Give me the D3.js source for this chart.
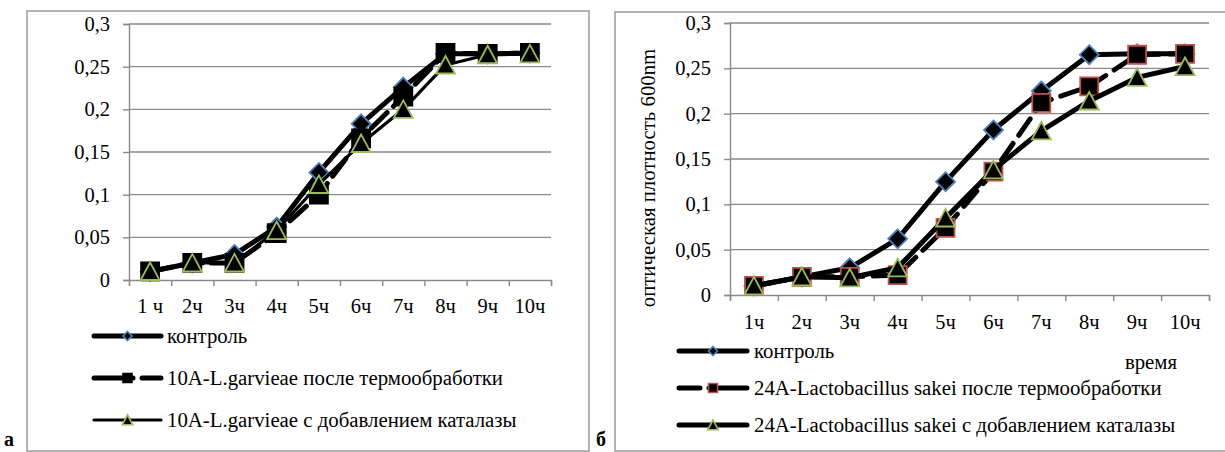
<!DOCTYPE html>
<html>
<head>
<meta charset="utf-8">
<script src="https://cdn.jsdelivr.net/npm/d3@7"></script>
<style>
  html, body { margin: 0; padding: 0; background: #fff; }
  svg, svg text { font-family: 'Liberation Serif', 'Times New Roman', Tinos, 'DejaVu Serif', serif !important; }
</style>
</head>
<body>
<svg id="chart" width="1225" height="452"></svg>
<script>
// ---------- DATA ----------
const leftCategories = ["1 ч", "2ч", "3ч", "4ч", "5ч", "6ч", "7ч", "8ч", "9ч", "10ч"];
const rightCategories = ["1ч", "2ч", "3ч", "4ч", "5ч", "6ч", "7ч", "8ч", "9ч", "10ч"];
const yTicks = [0, 0.05, 0.1, 0.15, 0.2, 0.25, 0.3];

const leftControl  = [0.01, 0.02, 0.03, 0.062, 0.126, 0.183, 0.226, 0.265, 0.265, 0.266];
const leftTermo    = [0.01, 0.02, 0.02, 0.055, 0.100, 0.166, 0.215, 0.266, 0.265, 0.266];
const leftCatalase = [0.01, 0.02, 0.02, 0.058, 0.112, 0.160, 0.200, 0.252, 0.264, 0.265];

const rightControl  = [0.01, 0.02, 0.03, 0.062, 0.125, 0.182, 0.225, 0.265, 0.266, 0.266];
const rightTermo    = [0.01, 0.02, 0.02, 0.022, 0.074, 0.136, 0.212, 0.230, 0.265, 0.266];
const rightCatalase = [0.01, 0.02, 0.019, 0.030, 0.085, 0.138, 0.181, 0.214, 0.240, 0.252];

const leftNames = ["контроль", "10A-L.garvieae после термообработки", "10A-L.garvieae с добавлением каталазы"];
const rightNames = ["контроль", "24A-Lactobacillus sakei после термообработки", "24A-Lactobacillus sakei с добавлением каталазы"];
const yTitle = "оптическая плотность 600nm";
const xTitle = "время";

// ---------- DRAW ----------
const FONT = "'Liberation Serif', 'Times New Roman', Tinos, 'DejaVu Serif', serif";
const svg = d3.select("#chart").attr("font-family", FONT);
const GRID = "#8a8a8a";
const FRAME = "#9a9a9a";
const BLUE = "#4f81bd", RED = "#c0504d", GREEN = "#9bbb59";
const TICK_FS = 20.5, TEXT_FS = 20.8;
const fmt = d3.formatLocale({decimal: ",", thousands: " ", grouping: [3], currency: ["", ""]}).format(".2~f");

function markerPath(shape, s) {
  if (shape === "diamond") return `M0,${-s}L${s},0L0,${s}L${-s},0Z`;
  if (shape === "square") return `M${-s},${-s}H${s}V${s}H${-s}Z`;
  return `M0,${-s}L${s * 1.05},${s * 0.95}L${-s * 1.05},${s * 0.95}Z`;
}

function drawChart(cfg) {
  const g = svg.append("g");
  g.append("rect").attr("x", cfg.frame[0]).attr("y", cfg.frame[1])
    .attr("width", cfg.frame[2]).attr("height", cfg.frame[3])
    .attr("fill", "none").attr("stroke", FRAME).attr("stroke-width", 1.5);

  const x = d3.scaleBand().domain(cfg.cats).range(cfg.xr).padding(0);
  const xl = d3.scaleLinear().domain([0, cfg.cats.length]).range(cfg.xr);
  const y = d3.scaleLinear().domain([0, 0.3]).range(cfg.yr);

  g.append("g").selectAll("line").data(yTicks.filter(d => d > 0)).join("line")
    .attr("x1", cfg.xr[0]).attr("x2", cfg.xr[1])
    .attr("y1", d => y(d)).attr("y2", d => y(d))
    .attr("stroke", GRID).attr("stroke-width", 1.4);

  const ya = g.append("g").attr("transform", `translate(${cfg.xr[0]},0)`)
    .call(d3.axisLeft(y).tickValues(yTicks).tickFormat(fmt).tickSize(6).tickPadding(13));
  ya.attr("font-family", FONT).attr("font-size", TICK_FS);
  ya.select(".domain").attr("stroke", GRID).attr("stroke-width", 1.4);
  ya.selectAll(".tick line").attr("stroke", GRID).attr("stroke-width", 1.4);
  ya.selectAll("text").attr("fill", "#000");

  const xt = g.append("g").attr("transform", `translate(0,${cfg.yr[0]})`)
    .call(d3.axisBottom(xl).ticks(cfg.cats.length).tickFormat("").tickSize(6).tickSizeOuter(6));
  xt.select(".domain").attr("stroke", GRID).attr("stroke-width", 1.4);
  xt.selectAll(".tick line").attr("stroke", GRID).attr("stroke-width", 1.4);

  const xa = g.append("g").attr("transform", `translate(0,${cfg.yr[0]})`)
    .call(d3.axisBottom(x).tickSize(0).tickPadding(cfg.xPad));
  xa.attr("font-family", FONT).attr("font-size", TICK_FS);
  xa.select(".domain").remove();
  xa.selectAll("text").attr("fill", "#000");

  const cx = d => x(d) + x.bandwidth() / 2;

  cfg.series.forEach(s => {
    const line = d3.line().x((d, i) => cx(cfg.cats[i])).y(d => y(d));
    g.append("path").datum(s.values).attr("d", line)
      .attr("fill", "none").attr("stroke", "#000").attr("stroke-width", s.width)
      .attr("stroke-linejoin", "round").attr("stroke-linecap", "round")
      .attr("stroke-dasharray", s.dash || null);
    g.append("g").selectAll("path").data(s.values).join("path")
      .attr("transform", (d, i) => `translate(${cx(cfg.cats[i])},${y(d)})`)
      .attr("d", markerPath(s.shape, s.size))
      .attr("fill", "#000").attr("stroke", s.outline).attr("stroke-width", 1.8);
  });

  cfg.series.forEach((s, i) => {
    const ly = cfg.legend.ys[i];
    const x0 = cfg.legend.x0, x1 = cfg.legend.x1, mx = (x0 + x1) / 2;
    g.append("line").attr("x1", x0).attr("x2", x1).attr("y1", ly).attr("y2", ly)
      .attr("stroke", "#000").attr("stroke-width", s.width)
      .attr("stroke-linecap", "round")
      .attr("stroke-dasharray", s.legendDash || null);
    g.append("path").attr("transform", `translate(${mx},${ly})`)
      .attr("d", markerPath(s.shape, s.shape === "triangle" ? 5 : 4.5))
      .attr("fill", "#000").attr("stroke", s.outline).attr("stroke-width", 1.6);
    g.append("text").attr("x", cfg.legend.tx).attr("y", ly).attr("dy", "0.33em")
      .attr("font-size", TEXT_FS).attr("fill", "#000").text(s.name);
  });
  return {g, x, y};
}

drawChart({
  frame: [27, 11, 562, 440],
  cats: leftCategories,
  xr: [129, 551], yr: [280, 24], xPad: 18,
  series: [
    {name: leftNames[0], values: leftControl, shape: "diamond", size: 9.5, outline: BLUE, width: 5},
    {name: leftNames[1], values: leftTermo, shape: "square", size: 9, outline: "#000", width: 5, dash: "22,9", legendDash: "39,9,30"},
    {name: leftNames[2], values: leftCatalase, shape: "triangle", size: 9, outline: GREEN, width: 3.2}
  ],
  legend: {x0: 94, x1: 161, tx: 167, ys: [336, 378, 420]}
});

drawChart({
  frame: [615, 12, 640, 439],
  cats: rightCategories,
  xr: [730, 1209], yr: [295, 23], xPad: 19,
  series: [
    {name: rightNames[0], values: rightControl, shape: "diamond", size: 9.5, outline: BLUE, width: 5},
    {name: rightNames[1], values: rightTermo, shape: "square", size: 9, outline: RED, width: 5, dash: "20,10", legendDash: "21,9,40"},
    {name: rightNames[2], values: rightCatalase, shape: "triangle", size: 9, outline: GREEN, width: 5}
  ],
  legend: {x0: 679, x1: 747, tx: 754, ys: [351, 388, 425]}
});

svg.append("text").attr("transform", "translate(648,178) rotate(-90)")
  .attr("text-anchor", "middle").attr("dy", "0.33em").attr("font-size", TEXT_FS).text(yTitle);
svg.append("text").attr("x", 1151).attr("y", 362).attr("text-anchor", "middle")
  .attr("dy", "0.33em").attr("font-size", TEXT_FS).text(xTitle);

svg.append("text").attr("x", 4).attr("y", 446).attr("font-size", 20).attr("font-weight", "bold").text("а");
svg.append("text").attr("x", 596).attr("y", 446).attr("font-size", 20).attr("font-weight", "bold").text("б");
</script>
</body>
</html>
